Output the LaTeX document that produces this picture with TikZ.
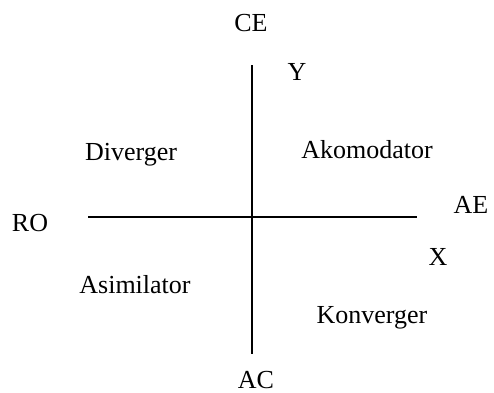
\documentclass[tikz,border=0pt]{standalone}
\usepackage{fontspec}
\setmainfont{Liberation Serif}
\begin{document}
\begin{tikzpicture}[x=0.5pt,y=-0.5pt,
  lbl/.style={inner sep=0pt,font=\fontsize{13}{15}\selectfont},
  axis/.style={line width=0.9pt}]
\useasboundingbox (0,0) rectangle (494,392);
\coordinate (top) at (252,65);
\coordinate (bot) at (252,354);
\coordinate (left) at (88,217);
\coordinate (right) at (417,217);
\draw[axis] (top) -- (bot);
\draw[axis] (left) -- (right);
\node[lbl] (ce) at (251,23) {CE};
\node[lbl] (y) at (297,72) {Y};
\node[lbl] (div) at (131,155) {Diverger};
\node[lbl] (ako) at (367,150) {Akomodator};
\node[lbl] (ro) at (30,223) {RO};
\node[lbl] (ae) at (471,205) {AE};
\node[lbl] (x) at (438,257) {X};
\node[lbl] (asi) at (135,285) {Asimilator};
\node[lbl] (kon) at (372,318) {Konverger};
\node[lbl] (ac) at (256,380) {AC};
\end{tikzpicture}
\end{document}
